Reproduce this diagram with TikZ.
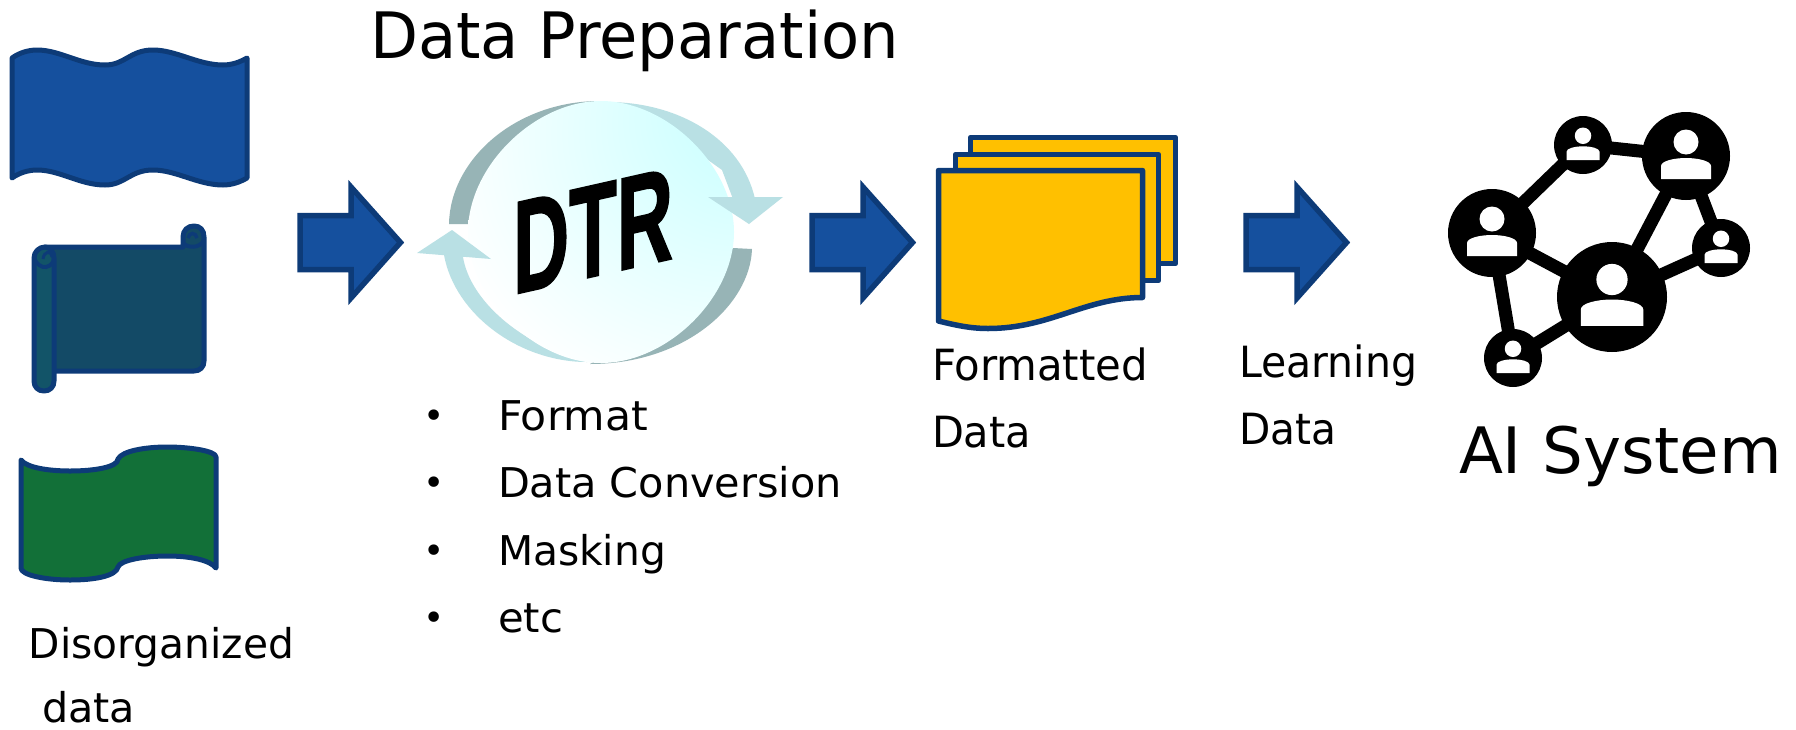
\documentclass[tikz,border=0pt]{standalone}
\usepackage{fontspec}
\usepackage{graphicx}
\setmainfont{DejaVu Sans}
\newfontface\dtrfont{Liberation Sans Bold}[FakeBold=1.5]
\definecolor{edgeblue}{HTML}{0D3B78}
\definecolor{bluefill}{HTML}{15509E}
\definecolor{scrollfill}{HTML}{134A66}
\definecolor{rollfill}{HTML}{125468}
\definecolor{greenfill}{HTML}{127038}
\definecolor{docfill}{HTML}{FFC000}
\definecolor{ringdark}{HTML}{97B4B6}
\definecolor{ringlight}{HTML}{B9E0E4}
\pgfdeclareradialshading{dtrshade}{\pgfpoint{33bp}{27bp}}{rgb(0bp)=(0.8,1,1);rgb(12bp)=(0.82,1,1);rgb(30bp)=(0.91,1,1);rgb(48bp)=(1,1,1);rgb(100bp)=(1,1,1)}
\tikzset{
  blobshape/.style={draw=edgeblue,line width=5pt,line join=round},
  arrowshape/.style={draw=edgeblue,fill=bluefill,line width=5.5pt,line join=miter,miter limit=10},
  docshape/.style={draw=edgeblue,fill=docfill,line width=5.5pt,line join=round},
  netnode/.style={circle,fill=black,inner sep=0pt,minimum size=#1},
  netedge/.style={draw=black,line width=13pt},
  textlabel/.style={anchor=base west,inner sep=0pt,outer sep=0pt,text=black},
}
\newcommand{\lbl}[6]{\node[textlabel] (#1) at (#2,#3) {\fontsize{#4pt}{#4pt}\selectfont\resizebox{#5pt}{\height}{#6}};}
\newcommand{\bulletmark}[2]{\node[textlabel,anchor=base] (#1) at (434,#2+13) {\fontsize{36pt}{36pt}\selectfont •};}
\newcommand{\person}[2]{\begin{scope}[shift={(#1.center)},scale=#2]
  \fill[white] (0,-14) circle[radius=12.5];
  \fill[white] (-25,23) -- (-25,10) .. controls (-25,5) and (-12,2) .. (0,2) .. controls (12,2) and (25,5) .. (25,10) -- (25,23) -- cycle;
\end{scope}}
\newcommand{\blockarrow}[1]{\path[arrowshape,shift={(#1,242.5)}] (0,-27) -- (51,-27) -- (51,-55.5) -- (100.5,0) -- (51,55.5) -- (51,27) -- (0,27) -- cycle;}
\begin{document}
\begin{tikzpicture}[x=1pt,y=-1pt]
\useasboundingbox (0,0) rectangle (1796,729);
\fill[white] (0,0) rectangle (1796,729);
% wave banner
\path[blobshape,fill=bluefill] (12,58) .. controls (19,53) and (28,50) .. (37,50) .. controls (60,50) and (80,65) .. (105,65) .. controls (125,65) and (130,50) .. (153,50) .. controls (176,50) and (198,65) .. (223,65) .. controls (232,65) and (240,62) .. (247,58)
 -- (247,178) .. controls (240,182) and (232,185) .. (223,185) .. controls (198,185) and (176,170) .. (153,170) .. controls (130,170) and (125,185) .. (105,185) .. controls (80,185) and (60,170) .. (37,170) .. controls (28,170) and (19,173) .. (12,178) -- cycle;
% scroll
\path[blobshape,fill=scrollfill] (45,247) -- (183,247) -- (183,237) .. controls (183,230) and (188,226) .. (194,226) .. controls (200,226) and (204,230) .. (204,237) -- (204,361) .. controls (204,367) and (200,371) .. (194,371) -- (45,371) -- cycle;
\path[blobshape,fill=rollfill] (34,258) .. controls (34,252) and (39,247) .. (45,247) .. controls (50,247) and (54,252) .. (54,258) -- (54,381) .. controls (54,387) and (50,391) .. (44,391) .. controls (38,391) and (34,387) .. (34,381) -- cycle;
\draw[edgeblue,line width=4pt] (34,258) .. controls (36,264) and (42,268) .. (46,267) .. controls (51,266) and (54,262) .. (54,258);
\draw[edgeblue,line width=3pt] (43,259) .. controls (44,251) and (51,250) .. (52,257);
\draw[edgeblue,line width=4pt] (183,243) .. controls (187,248) and (200,249) .. (204,240);
\draw[edgeblue,line width=3.5pt] (188,238) .. controls (189,232) and (196,232) .. (197,238);
% green banner
\path[blobshape,fill=greenfill] (21,460) .. controls (27,468) and (50,471) .. (70,471) .. controls (95,471) and (118,467) .. (118,459) .. controls (122,451) and (145,447) .. (167,447) .. controls (190,447) and (216,451) .. (216,457) -- (216,568) .. controls (210,560) and (190,556) .. (167,556) .. controls (145,556) and (120,560) .. (118,567) .. controls (116,576) and (95,580) .. (70,580) .. controls (45,580) and (21,575) .. (21,568) -- cycle;
% block arrows
\blockarrow{300}
\blockarrow{812}
\blockarrow{1246}
% DTR cycle
\fill[ringdark] (449,224) .. controls (450,160) and (515,101) .. (600,101) -- (520,180) -- (468.5,224) -- cycle;
\fill[ringlight] (607,102) .. controls (680,102) and (742,140) .. (755,199) -- (733,199) -- (722,170) -- (680,140) -- (640,150) -- cycle;
\fill[ringlight] (443,250) -- (444,255) .. controls (455,315) and (520,362) .. (587,362) .. controls (520,345) and (470,300) .. (463,257) -- (462,252) -- cycle;
\fill[ringdark] (752,249) .. controls (750,305) and (685,364) .. (590,364) -- (700,300) -- (733,248) -- cycle;
\shade[shading=dtrshade] (468,232) .. controls (468,166.5) and (534.5,101) .. (601,101) .. controls (667.5,101) and (734,166.5) .. (734,232) .. controls (734,297.5) and (667.5,363) .. (601,363) .. controls (534.5,363) and (468,297.5) .. (468,232) -- cycle;
\fill[ringlight] (708,197) -- (783,197) -- (749,224) -- cycle;
\fill[ringlight] (452,230) -- (417,253) -- (491,259) -- cycle;
\begin{scope}[shift={(593,231)},cm={0.59,0.133,0,1,(0,0)}]
  \node[transform shape,inner sep=0pt,text=black] (dtr) at (0,0) {\dtrfont\fontsize{132pt}{132pt}\selectfont DTR};
\end{scope}
% documents
\path[docshape] (970.5,137.5) rectangle (1175.5,263.5);
\path[docshape] (955.5,154.5) rectangle (1158.5,280.5);
\path[docshape] (938.5,170.5) -- (1142.5,170.5) -- (1142.5,297.5) .. controls (1085,297.5) and (1050,328.5) .. (988,328.5) .. controls (970,328.5) and (955,325) .. (938.5,321) -- cycle;
% network
\node[netnode=88pt] (na) at (1492,233) {};
\node[netnode=58pt] (nb) at (1583,145) {};
\node[netnode=88pt] (nc) at (1686,156) {};
\node[netnode=58pt] (nd) at (1721,248) {};
\node[netnode=110pt] (ne) at (1612,297) {};
\node[netnode=58pt] (nf) at (1513,358) {};
\path[netedge] (na.center) -- (nb.center);
\path[netedge] (nb.center) -- (nc.center);
\path[netedge] (nc.center) -- (nd.center);
\path[netedge] (nc.center) -- (ne.center);
\path[netedge] (nd.center) -- (ne.center);
\path[netedge] (na.center) -- (ne.center);
\path[netedge] (na.center) -- (nf.center);
\path[netedge] (nf.center) -- (ne.center);
\person{na}{1}
\person{nb}{0.66}
\person{nc}{1}
\person{nd}{0.66}
\person{ne}{1.25}
\person{nf}{0.66}
% text
\lbl{title}{370}{58}{64}{529}{Data Preparation}
\lbl{fmt}{498}{430}{41}{150}{Format}
\lbl{conv}{498}{497}{41}{344}{Data Conversion}
\lbl{mask}{498}{565}{41}{168}{Masking}
\lbl{etc}{498}{632}{41}{65}{etc}
\bulletmark{b1}{415}
\bulletmark{b2}{482}
\bulletmark{b3}{550}
\bulletmark{b4}{617}
\lbl{formatted}{932}{380}{43}{216}{Formatted}
\lbl{dataa}{932}{447}{43}{99}{Data}
\lbl{learning}{1239}{377}{43}{178}{Learning}
\lbl{datab}{1239}{444}{43}{97}{Data}
\lbl{aisys}{1459}{473}{64}{323}{AI System}
\lbl{disorg}{29}{658}{41}{265}{Disorganized}
\lbl{datac}{42}{722}{41}{93}{data}
\end{tikzpicture}
\end{document}
